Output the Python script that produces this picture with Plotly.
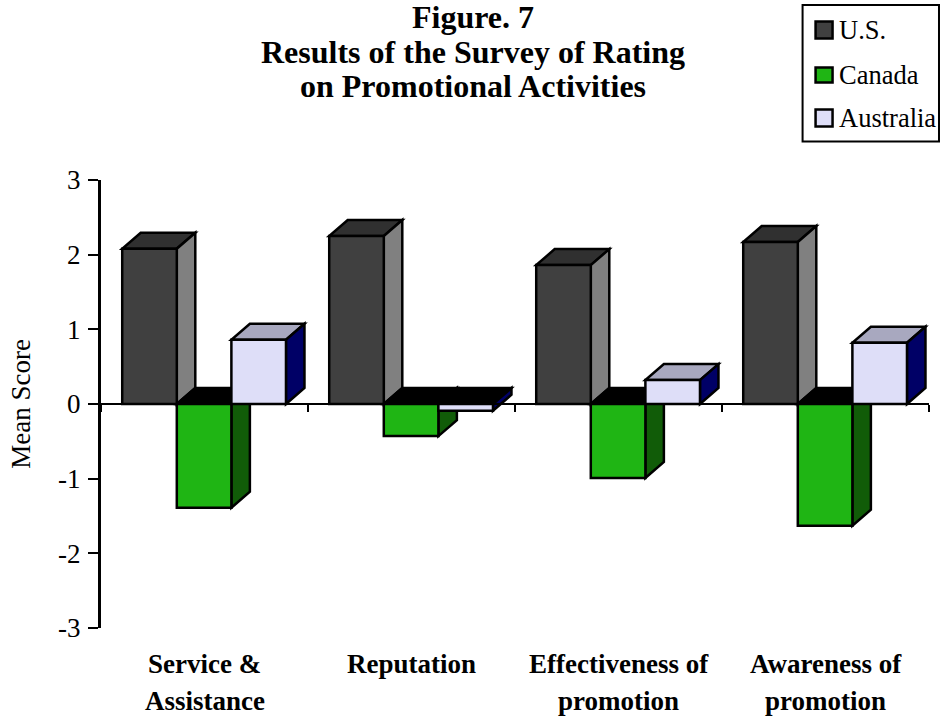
import plotly.graph_objects as go

CATEGORY_LINES = [
    ["Service &", "Assistance"],
    ["Reputation"],
    ["Effectiveness of", "promotion"],
    ["Awareness of", "promotion"],
]
SERIES = ["U.S.", "Canada", "Australia"]
US = [2.08, 2.25, 1.86, 2.17]
CANADA = [-1.39, -0.43, -0.99, -1.63]
AUSTRALIA = [0.86, -0.09, 0.32, 0.82]
VALUES = [US, CANADA, AUSTRALIA]
FRONT = ["#404040", "#1fb514", "#dedef8"]
SIDE = ["#808080", "#115c08", "#000066"]
TOP = ["#303030", "#000000", "#a8a8bf"]
NEG_TOP = "#000000"
Y_TICKS = [-3, -2, -1, 0, 1, 2, 3]
Y_LABELS = ["-3", "-2", "-1", "0", "1", "2", "3"]
TITLE_LINES = ["Figure. 7", "Results of the Survey of Rating", "on Promotional Activities"]
Y_TITLE = "Mean Score"

W, H = 942, 719
L, R, T, B = 100.5, 13, 180, 91
SERIF = "Liberation Serif"
BAR_W = 0.2637
START = 0.1025
DX = 18.5 / 207.1
DY = 16 / 74.67
LW = 2.5


def px(x):
    return (x - L) / (W - L - R)


def py(y):
    return 1 - (y - T) / (H - T - B)


fig = go.Figure()
shapes = []
for i in range(len(CATEGORY_LINES)):
    for s in range(len(SERIES)):
        v = VALUES[s][i]
        x0 = i + START + s * BAR_W
        x1 = x0 + BAR_W
        top_y = max(v, 0)
        top = f"M{x0},{top_y} L{x1},{top_y} L{x1+DX},{top_y+DY} L{x0+DX},{top_y+DY} Z"
        side = f"M{x1},0 L{x1+DX},{DY} L{x1+DX},{v+DY} L{x1},{v} Z"
        shapes.append(dict(type="path", path=top, xref="x", yref="y", layer="below",
                           fillcolor=NEG_TOP if v < 0 else TOP[s], line=dict(color="black", width=LW)))
        shapes.append(dict(type="path", path=side, xref="x", yref="y", layer="below",
                           fillcolor=SIDE[s], line=dict(color="black", width=LW)))

for s, name in enumerate(SERIES):
    fig.add_trace(go.Bar(
        x=[i + START + (s + 0.5) * BAR_W for i in range(len(CATEGORY_LINES))],
        y=VALUES[s], width=BAR_W, name=name,
        marker=dict(color=FRONT[s], line=dict(color="black", width=LW)),
        showlegend=False,
    ))

# legend box
shapes.append(dict(type="rect", xref="paper", yref="paper", x0=px(802.5), x1=px(939), y0=py(5), y1=py(141.5),
                   fillcolor="white", line=dict(color="black", width=2)))
ann = []
leg_y = [30, 75, 118]
leg_h = [8.5, 7.5, 8.5]
for s, name in enumerate(SERIES):
    shapes.append(dict(type="rect", xref="paper", yref="paper", x0=px(815.5), x1=px(832.5),
                       y0=py(leg_y[s] - leg_h[s]), y1=py(leg_y[s] + leg_h[s]),
                       fillcolor=FRONT[s], line=dict(color="black", width=LW)))
    ann.append(dict(text=name, xref="paper", yref="paper", x=px(837), y=py(leg_y[s]), xanchor="left", yanchor="middle",
                    showarrow=False, font=dict(family=SERIF, size=26.5, color="black")))

for i, lines in enumerate(CATEGORY_LINES):
    for j, t in enumerate(lines):
        ann.append(dict(text=f"<b>{t}</b>", xref="x", yref="paper", x=i + 0.5, y=py(664 + 37 * j),
                        xanchor="center", yanchor="middle", showarrow=False,
                        font=dict(family=SERIF, size=27, color="black")))

title_y = [17, 52, 86]
for j, t in enumerate(TITLE_LINES):
    ann.append(dict(text=f"<b>{t}</b>", xref="paper", yref="paper", x=px(473), y=py(title_y[j]),
                    xanchor="center", yanchor="middle", showarrow=False,
                    font=dict(family=SERIF, size=32, color="black")))

fig.update_layout(
    width=W, height=H, margin=dict(l=L, r=R, t=T, b=B, pad=0), autosize=False,
    paper_bgcolor="white", plot_bgcolor="white", barmode="overlay", showlegend=False,
    xaxis=dict(range=[0, 4], tickvals=[0, 1, 2, 3, 4], showticklabels=False, ticks="outside", ticklen=7,
               tickwidth=2, tickcolor="black", showline=True, linewidth=2, linecolor="black",
               anchor="free", position=0.5, showgrid=False, zeroline=False, fixedrange=True),
    yaxis=dict(range=[-3, 3], tickvals=Y_TICKS, ticktext=Y_LABELS, ticks="outside", ticklen=10, tickwidth=2,
               tickcolor="black", showline=True, linewidth=3, linecolor="black", showgrid=False,
               zeroline=False, fixedrange=True, ticklabelstandoff=2,
               tickfont=dict(family=SERIF, size=27, color="black"),
               title=dict(text=Y_TITLE, standoff=20, font=dict(family=SERIF, size=27, color="black"))),
    shapes=shapes, annotations=ann,
)
fig.write_html("out.html", post_script="document.body.style.margin='0';",
               config=dict(displayModeBar=False))
